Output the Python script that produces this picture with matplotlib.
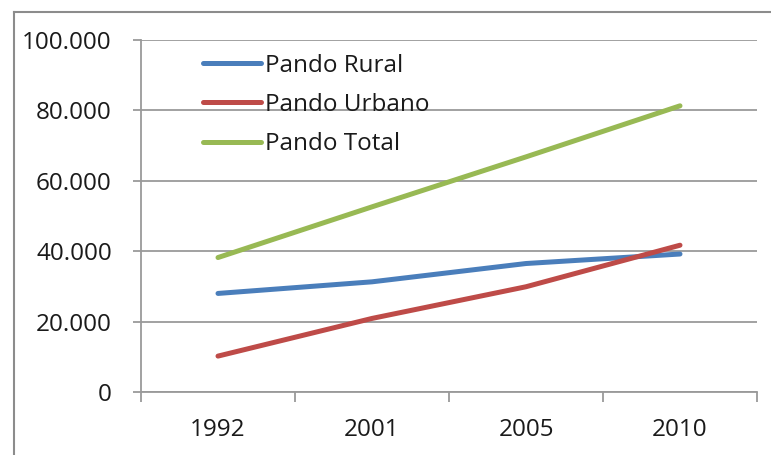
import matplotlib
matplotlib.use("Agg")
import matplotlib.pyplot as plt
from matplotlib.ticker import FuncFormatter, FixedLocator
from matplotlib.lines import Line2D

# Population of Pando department by area
years = ["1992", "2001", "2005", "2010"]
rural = [28000, 31300, 36500, 39200]
urbano = [10200, 20900, 29900, 41700]
total = [38200, 52600, 66800, 81300]
series_names = ["Pando Rural", "Pando Urbano", "Pando Total"]
colors = ["#4A7EBB", "#BE4B48", "#98B954"]
yticks = [0, 20000, 40000, 60000, 80000, 100000]

plt.rcParams["font.family"] = ["Open Sans", "DejaVu Sans"]
FS = 17.5
fig = plt.figure(figsize=(7.71, 4.55), dpi=100)
ax = fig.add_axes([141 / 771, 1 - 392 / 455, (757 - 141) / 771, (392 - 40) / 455])

x = list(range(len(years)))
for vals, name, col in zip([rural, urbano, total], series_names, colors):
    ax.plot(x, vals, color=col, lw=3.6, solid_capstyle="round", label=name, zorder=3)

ax.set_xlim(-0.5, len(years) - 0.5)
ax.set_ylim(0, 100000)

grid_col = "#9A9A9A"
ax.set_yticks(yticks)
ax.yaxis.set_major_formatter(FuncFormatter(lambda v, p: f"{int(v):,}".replace(",", ".")))
ax.grid(axis="y", color=grid_col, lw=1.3, zorder=1)
ax.tick_params(axis="y", length=6, width=1.3, color=grid_col, pad=15, labelsize=FS, labelcolor="#1a1a1a")

# boundary ticks between categories, labels centred on categories
ax.xaxis.set_major_locator(FixedLocator([i - 0.5 for i in range(len(years) + 1)]))
ax.xaxis.set_minor_locator(FixedLocator(x))
ax.set_xticklabels([], minor=False)
ax.set_xticklabels(years, minor=True)
ax.tick_params(axis="x", which="major", length=7, width=1.3, color=grid_col)
ax.tick_params(axis="x", which="minor", length=0, pad=19, labelsize=FS, labelcolor="#1a1a1a")

for s in ["top", "right"]:
    ax.spines[s].set_visible(False)
for s in ["left", "bottom"]:
    ax.spines[s].set_color(grid_col)
    ax.spines[s].set_linewidth(1.3)

leg = ax.legend(loc="upper left", bbox_to_anchor=(0.085, 0.989), frameon=False,
                fontsize=FS, handlelength=2.4, handletextpad=0.15,
                labelspacing=0.63, borderaxespad=0.0)
for t in leg.get_texts():
    t.set_color("#1a1a1a")

# outer chart frame
frame_col = "#8C8C8C"
fig.add_artist(Line2D([14 / 771, 14 / 771], [0, 1 - 12 / 455], transform=fig.transFigure,
                      color=frame_col, lw=1.5))
fig.add_artist(Line2D([14 / 771, 1], [1 - 12 / 455, 1 - 12 / 455], transform=fig.transFigure,
                      color=frame_col, lw=1.5))

fig.savefig("out.png", dpi=100)
